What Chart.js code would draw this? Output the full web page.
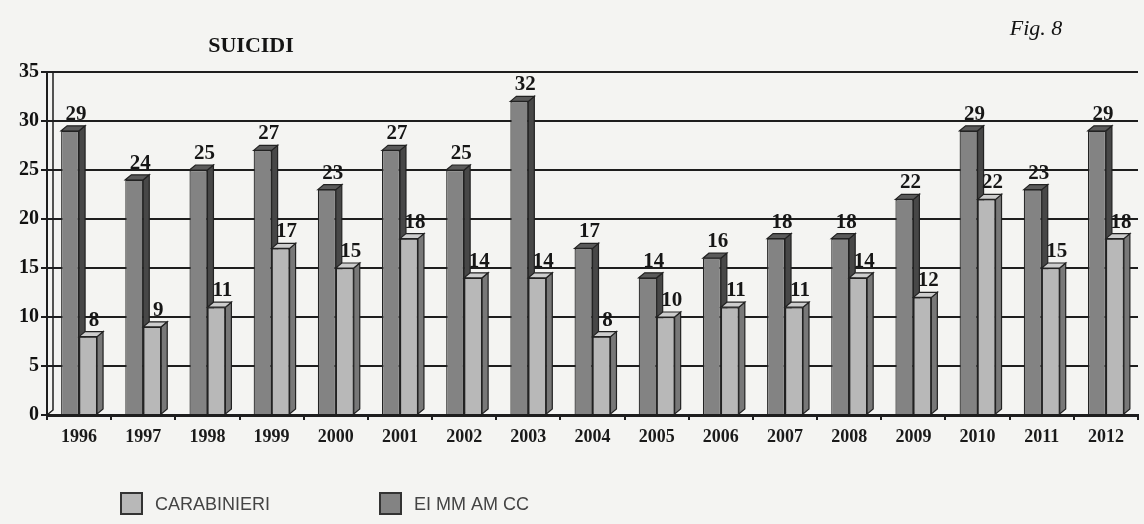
<!DOCTYPE html>
<html>
<head>
<meta charset="utf-8">
<title>Suicidi</title>
<script src="https://cdn.jsdelivr.net/npm/chart.js@4/dist/chart.umd.min.js"></script>
<style>
  html, body { margin: 0; padding: 0; background: #f4f4f2; }
  #wrap { width: 1144px; height: 524px; position: relative; }
</style>
</head>
<body>
<div id="wrap"><canvas id="c" width="1144" height="524"></canvas></div>
<script>
// ---- data ----
const years = ['1996','1997','1998','1999','2000','2001','2002','2003','2004',
               '2005','2006','2007','2008','2009','2010','2011','2012'];
const eiMmAmCc    = [29, 24, 25, 27, 23, 27, 25, 32, 17, 14, 16, 18, 18, 22, 29, 23, 29];
const carabinieri = [ 8,  9, 11, 17, 15, 18, 14, 14,  8, 10, 11, 11, 14, 12, 22, 15, 18];
const yTickValues = [0, 5, 10, 15, 20, 25, 30, 35];
const seriesNames = ['EI MM AM CC', 'CARABINIERI'];
const chartTitle = 'SUICIDI';
const figureTag = 'Fig. 8';

// ---- look ----
const INK = '#1e1e1e';
const SERIF = '"Liberation Serif", "DejaVu Serif", serif';
const DEPTH_X = 6, DEPTH_Y = 5;
const barFaces = [
  { front: '#838383', side: '#474747', top: '#5a5a5a' },
  { front: '#b8b8b8', side: '#787878', top: '#cdcdcd' }
];

// paper background
const paper = {
  id: 'paper',
  beforeDraw(chart) {
    const ctx = chart.ctx;
    ctx.save();
    ctx.fillStyle = '#f4f4f2';
    ctx.fillRect(0, 0, chart.width, chart.height);
    ctx.restore();
  }
};

// back-wall edge line, shifted by the bar depth
const wall = {
  id: 'wall',
  beforeDatasetsDraw(chart) {
    const { ctx, chartArea: a } = chart;
    ctx.save();
    ctx.strokeStyle = INK;
    ctx.lineWidth = 1.5;
    ctx.beginPath();
    ctx.moveTo(a.left + DEPTH_X, a.top);
    ctx.lineTo(a.left + DEPTH_X, a.bottom - DEPTH_Y);
    ctx.lineTo(a.left, a.bottom);
    ctx.stroke();
    ctx.restore();
  }
};

function drawDepth(ctx, bar, f) {
  const { x, y, base, width } = bar.getProps(['x', 'y', 'base', 'width'], true);
  const l = x - width / 2, r = x + width / 2;
  ctx.beginPath();
  ctx.moveTo(r, y);
  ctx.lineTo(r + DEPTH_X, y - DEPTH_Y);
  ctx.lineTo(r + DEPTH_X, base - DEPTH_Y);
  ctx.lineTo(r, base);
  ctx.closePath();
  ctx.fillStyle = f.side; ctx.fill(); ctx.stroke();
  ctx.beginPath();
  ctx.moveTo(l, y);
  ctx.lineTo(l + DEPTH_X, y - DEPTH_Y);
  ctx.lineTo(r + DEPTH_X, y - DEPTH_Y);
  ctx.lineTo(r, y);
  ctx.closePath();
  ctx.fillStyle = f.top; ctx.fill(); ctx.stroke();
}

// 3D faces: left series' depth first, then the right series is redrawn on top with its depth
const bars3d = {
  id: 'bars3d',
  afterDatasetsDraw(chart) {
    const ctx = chart.ctx;
    const area = chart.chartArea;
    ctx.save();
    ctx.lineWidth = 1.2;
    ctx.strokeStyle = '#222';
    chart.data.datasets.forEach((ds, i) => {
      const meta = chart.getDatasetMeta(i);
      meta.data.forEach(bar => {
        if (i > 0) { ctx.save(); bar.draw(ctx, area); ctx.restore(); }
        drawDepth(ctx, bar, barFaces[i]);
      });
    });
    ctx.restore();
  }
};

// value labels above the bars
const valueLabels = {
  id: 'valueLabels',
  afterDatasetsDraw(chart) {
    const ctx = chart.ctx;
    ctx.save();
    ctx.font = 'bold 21px ' + SERIF;
    ctx.fillStyle = '#161616';
    ctx.textAlign = 'center';
    ctx.textBaseline = 'alphabetic';
    chart.data.datasets.forEach((ds, i) => {
      chart.getDatasetMeta(i).data.forEach((bar, j) => {
        const { x, y } = bar.getProps(['x', 'y'], true);
        ctx.fillText(String(ds.data[j]), x + DEPTH_X, y - 11);
      });
    });
    ctx.restore();
  }
};

// title, figure tag and legend
const captions = {
  id: 'captions',
  afterDraw(chart) {
    const ctx = chart.ctx;
    ctx.save();
    ctx.fillStyle = '#141414';
    ctx.textAlign = 'center';
    ctx.textBaseline = 'middle';
    ctx.font = 'bold 22px ' + SERIF;
    ctx.fillText(chartTitle, 251, 46);
    ctx.font = 'italic 22px ' + SERIF;
    ctx.fillText(figureTag, 1036, 29);

    // legend: CARABINIERI first, then EI MM AM CC
    const slots = [{ ds: 1, x: 120 }, { ds: 0, x: 379 }];
    ctx.textAlign = 'left';
    ctx.font = '18px "Liberation Sans", Arial, sans-serif';
    slots.forEach(s => {
      const ds = chart.data.datasets[s.ds];
      ctx.fillStyle = ds.backgroundColor;
      ctx.fillRect(s.x, 492, 23, 23);
      ctx.strokeStyle = '#333';
      ctx.lineWidth = 2;
      ctx.strokeRect(s.x + 1, 493, 21, 21);
      ctx.fillStyle = '#444';
      ctx.fillText(ds.label, s.x + 35, 505);
    });
    ctx.restore();
  }
};

new Chart(document.getElementById('c'), {
  type: 'bar',
  data: {
    labels: years,
    datasets: [
      { label: seriesNames[0], data: eiMmAmCc,
        backgroundColor: barFaces[0].front, borderColor: '#222', borderWidth: 1.2 },
      { label: seriesNames[1], data: carabinieri,
        backgroundColor: barFaces[1].front, borderColor: '#222', borderWidth: 1.2 }
    ]
  },
  options: {
    responsive: false,
    devicePixelRatio: 1,
    animation: false,
    layout: { padding: { top: 72, right: 6, bottom: 69, left: 0 } },
    datasets: { bar: { categoryPercentage: 0.56, barPercentage: 1 } },
    plugins: {
      legend: { display: false },
      title: { display: false },
      tooltip: { enabled: false }
    },
    scales: {
      x: {
        grid: { offset: true, drawOnChartArea: false, tickLength: 5, color: INK, lineWidth: 2 },
        border: { display: true, color: INK, width: 3 },
        ticks: { font: { family: SERIF, size: 18, weight: 'bold' }, color: '#1a1a1a',
                 padding: 7, maxRotation: 0, autoSkip: false },
        afterFit(scale) { scale.height = 40; }
      },
      y: {
        min: 0, max: 35,
        afterBuildTicks(scale) { scale.ticks = yTickValues.map(v => ({ value: v })); },
        grid: { color: INK, lineWidth: 2, tickLength: 6, tickColor: INK },
        border: { display: true, color: INK, width: 2 },
        ticks: { font: { family: SERIF, size: 20, weight: 'bold' }, color: '#111', padding: 2 },
        afterFit(scale) { scale.width = 47; }
      }
    }
  },
  plugins: [paper, wall, bars3d, valueLabels, captions]
});
</script>
</body>
</html>
